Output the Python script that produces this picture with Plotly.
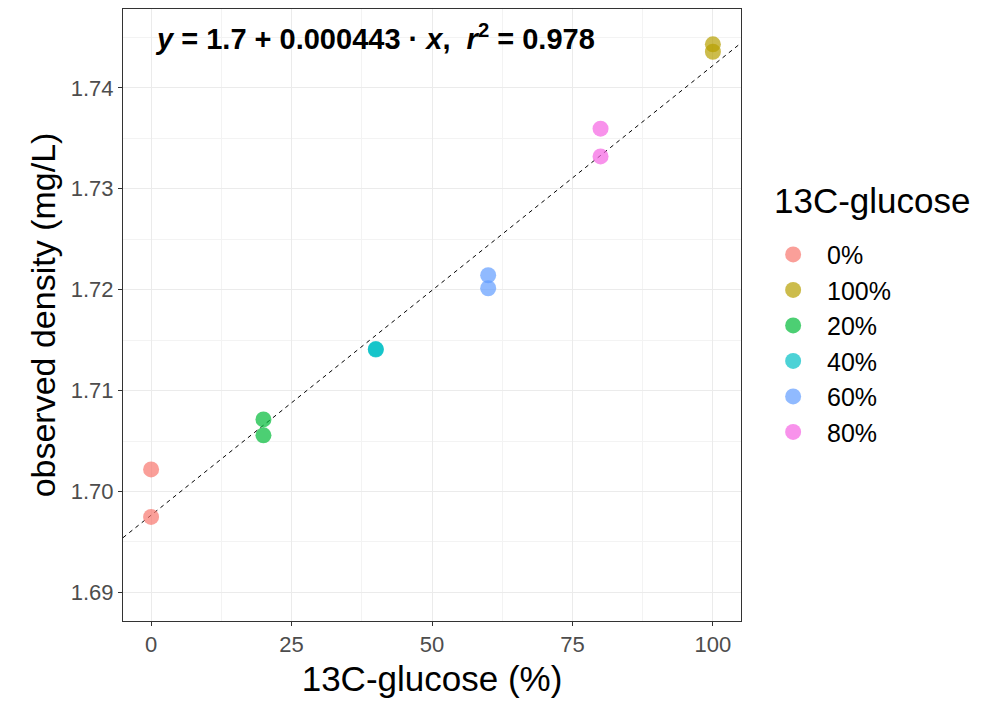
import numpy as np
import plotly.graph_objects as go

# ---- data ----
groups = ["0%", "100%", "20%", "40%", "60%", "80%"]
glucose_pct = {
    "0%": [0, 0],
    "100%": [100, 100],
    "20%": [20, 20],
    "40%": [40, 40],
    "60%": [60, 60],
    "80%": [80, 80],
}
density = {
    "0%": [1.70218, 1.69748],
    "100%": [1.74432, 1.74358],
    "20%": [1.70714, 1.70556],
    "40%": [1.71411, 1.71407],
    "60%": [1.72143, 1.72014],
    "80%": [1.73596, 1.73321],
}
colors = {
    "0%": "#F8766D",
    "100%": "#B79F00",
    "20%": "#00BA38",
    "40%": "#00BFC4",
    "60%": "#619CFF",
    "80%": "#F564E3",
}
x_ticks = [0, 25, 50, 75, 100]
y_ticks = [1.69, 1.70, 1.71, 1.72, 1.73, 1.74]
y_tick_labels = ["1.69", "1.70", "1.71", "1.72", "1.73", "1.74"]
eq_text = "<b><i>y</i> = 1.7 + 0.000443 · <i>x</i>,  <i>r</i><sup>2</sup> = 0.978</b>"
legend_title = "13C-glucose"

x_range = [-5, 105]
y_range = [1.68716, 1.74782]

FONT = "Liberation Sans, Arial, sans-serif"

fig = go.Figure()

# regression line (fit to the points)
all_x = np.concatenate([glucose_pct[g] for g in groups])
all_y = np.concatenate([density[g] for g in groups])
slope, intercept = np.polyfit(all_x, all_y, 1)
lx = np.array(x_range, dtype=float)
fig.add_trace(go.Scatter(
    x=lx, y=intercept + slope * lx, mode="lines",
    line=dict(color="black", width=1, dash="4px,4px"),
    showlegend=False, hoverinfo="skip",
))

for g in groups:
    fig.add_trace(go.Scatter(
        x=glucose_pct[g], y=density[g], mode="markers",
        name="\u00a0\u00a0" + g,
        legendgroup=g,
        marker=dict(size=16, color=colors[g], opacity=0.7, line=dict(width=0)),
    ))

fig.add_annotation(
    x=0.3, y=1.74505, xref="x", yref="y", xanchor="left", yanchor="middle",
    text=eq_text, showarrow=False,
    font=dict(family=FONT, size=29, color="black"),
)

# legend title
fig.add_annotation(
    x=1.0505, y=1 - (200 - 8) / 613, xref="paper", yref="paper",
    xanchor="left", yanchor="middle", text=legend_title, showarrow=False,
    font=dict(family=FONT, size=35, color="black"),
)

axis_common = dict(
    showline=True, linecolor="#333333", linewidth=1, mirror=True,
    ticks="outside", ticklen=4, tickcolor="#333333", tickwidth=1,
    showgrid=True, gridcolor="#EBEBEB", gridwidth=1,
    zeroline=False,
    tickfont=dict(family=FONT, size=22, color="#4D4D4D"),
)

fig.update_xaxes(
    range=x_range, tickvals=x_ticks, title_text="13C-glucose (%)",
    title_standoff=10,
    title_font=dict(family=FONT, size=35, color="black"),
    minor=dict(dtick=12.5, tick0=12.5, showgrid=True, gridcolor="#F3F3F3", ticks=""),
    **axis_common,
)
fig.update_yaxes(
    range=y_range, tickvals=y_ticks, ticktext=y_tick_labels,
    title_text="observed density (mg/L)", title_standoff=4,
    title_font=dict(family=FONT, size=34, color="black"),
    minor=dict(dtick=0.005, tick0=1.685, showgrid=True, gridcolor="#F3F3F3", ticks=""),
    **axis_common,
)

fig.update_layout(
    width=984, height=705,
    margin=dict(l=115, r=251, t=1, b=92),
    paper_bgcolor="white", plot_bgcolor="white",
    font=dict(family=FONT),
    legend=dict(
        x=1.052, y=1 - (231 - 8) / 613, xanchor="left", yanchor="top",
        font=dict(size=25, color="black"),
        tracegroupgap=0, itemsizing="trace",
        bgcolor="rgba(0,0,0,0)",
    ),
)

fig.write_html("out.html")
